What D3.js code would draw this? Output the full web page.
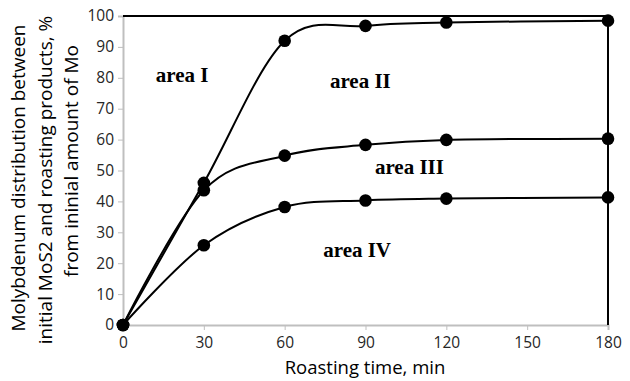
<!DOCTYPE html>
<html>
<head>
<meta charset="utf-8">
<script src="https://cdn.jsdelivr.net/npm/d3@7"></script>
<style>
  html, body { margin: 0; padding: 0; background: #fff; }
  svg { display: block; }
</style>
</head>
<body>
<svg id="chart" width="630" height="381"></svg>
<script>
// ---- data ----
const times = [0, 30, 60, 90, 120, 180];
const seriesTop = [0, 46, 92, 96.8, 97.9, 98.5];     // area I / area II boundary
const seriesMid = [0, 43.6, 54.8, 58.3, 59.9, 60.3]; // area II / area III boundary
const seriesLow = [0, 25.8, 38.2, 40.3, 40.9, 41.3]; // area III / area IV boundary
const xTicks = [0, 30, 60, 90, 120, 150, 180];
const yTicks = [0, 10, 20, 30, 40, 50, 60, 70, 80, 90, 100];
const areaLabels = ["area I", "area II", "area III", "area IV"];
const yTitleLines = ["Molybdenum distribution between", "initial MoS2 and roasting products, %", "from ininial amount of Mo"];
const xTitle = "Roasting time, min";
const topLevel = 100;

// ---- layout ----
const svg = d3.select("#chart");
const L = 123, T = 16, W = 485, H = 309;
const x = d3.scaleLinear().domain([0, 180]).range([L, L + W]);
const y = d3.scaleLinear().domain([0, 100]).range([T + H, T]);
const axisColor = "#bfbfbf";
const sans = "'Open Sans', 'Liberation Sans', sans-serif";

// x axis
const gx = svg.append("g").attr("transform", `translate(0,${T + H})`)
  .call(d3.axisBottom(x).tickValues(xTicks).tickSize(5).tickPadding(7).tickFormat(d3.format("d")));
gx.select(".domain").attr("stroke", axisColor).attr("stroke-width", 2);
gx.selectAll(".tick line").attr("stroke", axisColor).attr("stroke-width", 1);
gx.selectAll(".tick text").attr("font-family", sans).attr("font-size", 15.5).attr("fill", "#262626");

// y axis
const gy = svg.append("g").attr("transform", `translate(${L},0)`)
  .call(d3.axisLeft(y).tickValues(yTicks).tickSize(5).tickPadding(4).tickFormat(d3.format("d")));
gy.select(".domain").attr("stroke", axisColor).attr("stroke-width", 2);
gy.selectAll(".tick line").attr("stroke", axisColor).attr("stroke-width", 1);
gy.selectAll(".tick text").attr("font-family", sans).attr("font-size", 15.5).attr("fill", "#262626");

// boundary lines: top (100%) and right (180 min)
svg.append("line")
  .attr("x1", x(0)).attr("x2", x(180))
  .attr("y1", y(topLevel)).attr("y2", y(topLevel))
  .attr("stroke", "#000").attr("stroke-width", 2.2);
svg.append("line")
  .attr("x1", x(180)).attr("x2", x(180))
  .attr("y1", y(0)).attr("y2", y(seriesTop[seriesTop.length - 1]))
  .attr("stroke", "#000").attr("stroke-width", 2);

// curves
const line = d3.line()
  .x((d, i) => x(times[i]))
  .y(d => y(d))
  .curve(d3.curveCardinal.tension(0));

[seriesTop, seriesMid, seriesLow].forEach(s => {
  svg.append("path").datum(s)
    .attr("d", line)
    .attr("fill", "none").attr("stroke", "#000").attr("stroke-width", 2);
});
[seriesTop, seriesMid, seriesLow].forEach(s => {
  svg.append("g").selectAll("circle").data(s).join("circle")
    .attr("cx", (d, i) => x(times[i]))
    .attr("cy", d => y(d))
    .attr("r", 6.3)
    .attr("fill", "#000");
});

// area labels
const labelPos = [[12.2, 78.6], [76.8, 76.7], [93.5, 48.9], [74.3, 22]];
svg.append("g").selectAll("text").data(areaLabels).join("text")
  .attr("x", (d, i) => x(labelPos[i][0]))
  .attr("y", (d, i) => y(labelPos[i][1]))
  .attr("font-family", "'Liberation Serif', 'Times New Roman', serif")
  .attr("font-weight", "bold")
  .attr("font-size", 21)
  .attr("fill", "#000")
  .text(d => d);

// axis titles
svg.append("text")
  .attr("x", 365).attr("y", 374)
  .attr("text-anchor", "middle")
  .attr("font-family", sans).attr("font-size", 18.5).attr("fill", "#000")
  .text(xTitle);

const yTitlePos = [[25, 178], [51.5, 180], [78, 161]];
svg.append("g").selectAll("text").data(yTitleLines).join("text")
  .attr("transform", (d, i) => `translate(${yTitlePos[i][0]},${yTitlePos[i][1]}) rotate(-90)`)
  .attr("text-anchor", "middle")
  .attr("font-family", sans).attr("font-size", 19).attr("fill", "#000")
  .text(d => d);
</script>
</body>
</html>
